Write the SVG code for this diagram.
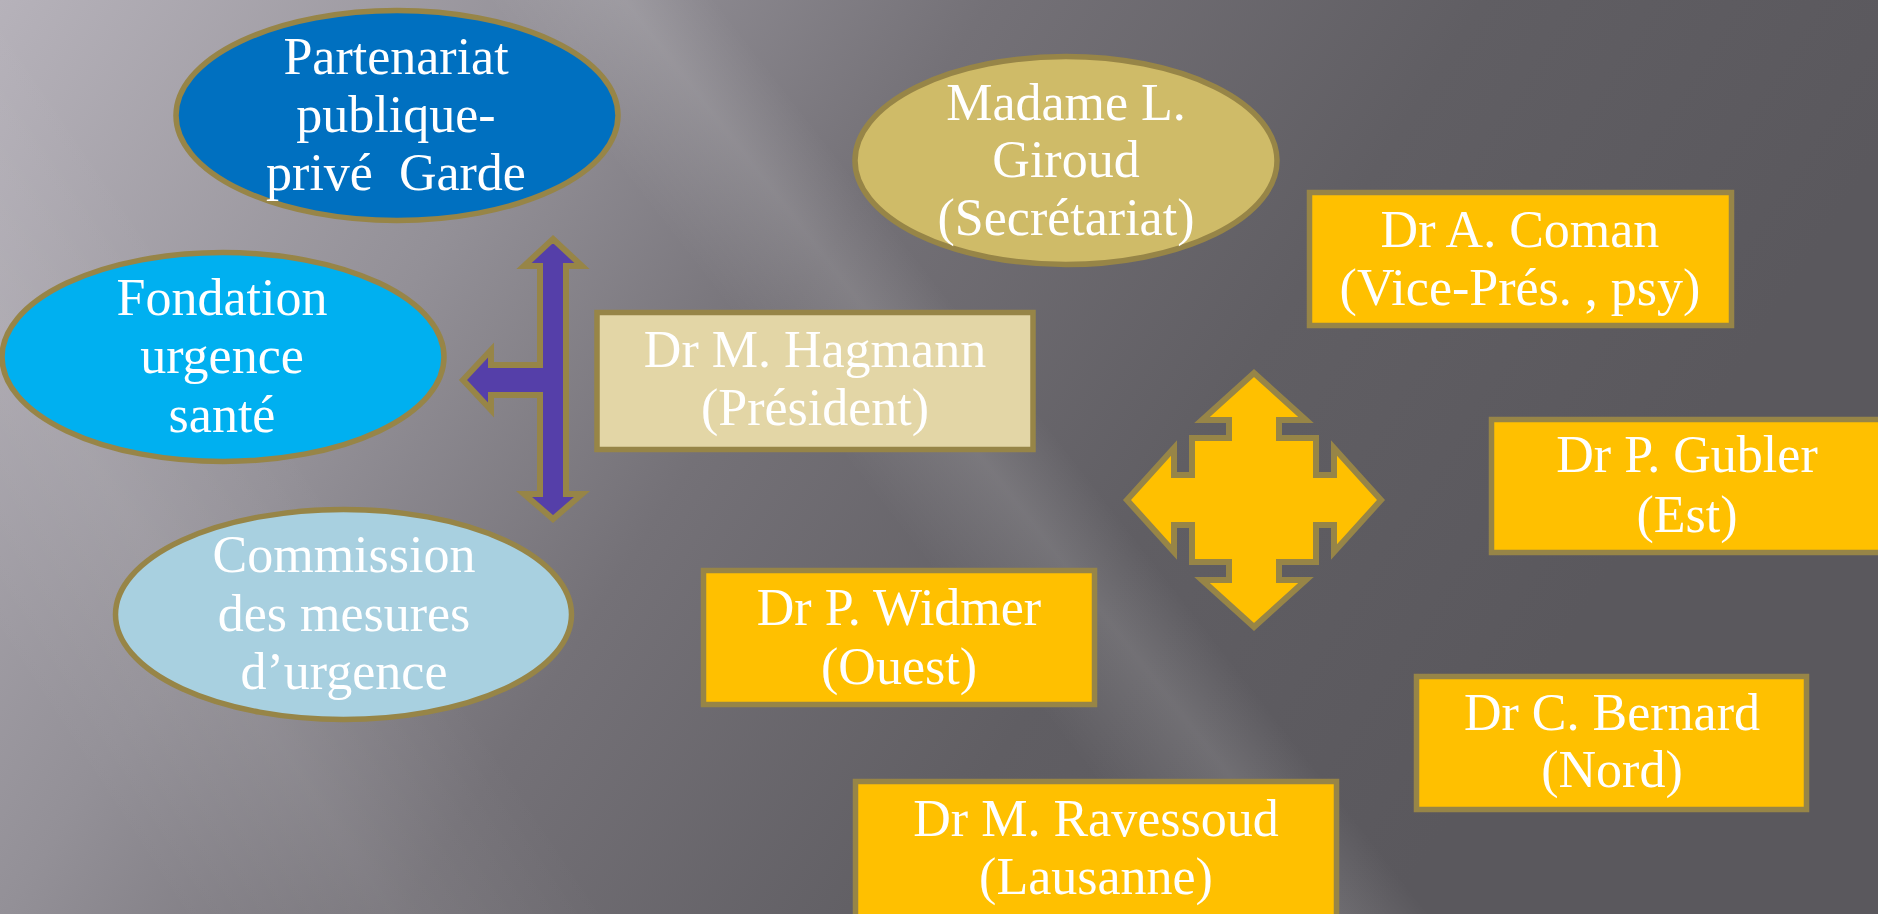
<svg xmlns="http://www.w3.org/2000/svg" width="1878" height="914" viewBox="0 0 1878 914">
<defs>
<linearGradient id="bg" gradientUnits="userSpaceOnUse" x1="0" y1="0" x2="1400" y2="900">
<stop offset="0" stop-color="#B6B2BA"/>
<stop offset="0.3" stop-color="#939097"/>
<stop offset="0.5" stop-color="#747177"/>
<stop offset="0.75" stop-color="#605E63"/>
<stop offset="1" stop-color="#5A585D"/>
</linearGradient>
<linearGradient id="streak" gradientUnits="userSpaceOnUse" x1="703" y1="570" x2="1177" y2="200">
<stop offset="0" stop-color="#FFFFFF" stop-opacity="0"/>
<stop offset="0.3" stop-color="#FFFFFF" stop-opacity="0"/>
<stop offset="0.48" stop-color="#FFFFFF" stop-opacity="0.12"/>
<stop offset="0.6" stop-color="#FFFFFF" stop-opacity="0"/>
<stop offset="1" stop-color="#FFFFFF" stop-opacity="0"/>
</linearGradient>
<linearGradient id="streak2" gradientUnits="userSpaceOnUse" x1="100" y1="800" x2="400" y2="600">
<stop offset="0" stop-color="#FFFFFF" stop-opacity="0"/>
<stop offset="0.5" stop-color="#FFFFFF" stop-opacity="0.07"/>
<stop offset="1" stop-color="#FFFFFF" stop-opacity="0"/>
</linearGradient>
</defs>
<style>
.node{stroke:#978547;stroke-width:5.5}
.lbl{font-family:"Liberation Serif","Times New Roman",serif;font-size:52px;fill:#FFFFFF;text-anchor:middle}
.arrow{stroke:#978547;stroke-width:6;stroke-linejoin:miter}
</style>
<rect x="0" y="0" width="1878" height="914" fill="url(#bg)"/>
<rect x="0" y="0" width="1878" height="914" fill="url(#streak)"/>
<rect x="0" y="0" width="1878" height="914" fill="url(#streak2)"/>

<g id="arrows">
<polygon class="arrow" fill="#553FA9" points="553,239 582,266 566,266 566,494 582,494 553,519 524,494 540,494 540,395 491,395 491,410 463,380 491,350 491,365 540,365 540,266 524,266"/>
<polygon class="arrow" fill="#FFC000" transform="translate(1254,500)" points="0,-127 52,-80 25,-80 25,-62 62,-62 62,-25 80,-25 80,-52 127,0 80,52 80,25 62,25 62,62 25,62 25,80 52,80 0,127 -52,80 -25,80 -25,62 -62,62 -62,25 -80,25 -80,52 -127,0 -80,-52 -80,-25 -62,-25 -62,-62 -25,-62 -25,-80 -52,-80"/>
</g>

<g id="partenariat">
<ellipse class="node" cx="397" cy="115.5" rx="221" ry="105" fill="#0070C0"/>
<text class="lbl" x="396" y="74">Partenariat</text>
<text class="lbl" x="396" y="132">publique-</text>
<text class="lbl" x="396" y="190">privé&#160; Garde</text>
</g>

<g id="giroud">
<ellipse class="node" cx="1066" cy="160.5" rx="211" ry="104" fill="#CFBB68"/>
<text class="lbl" x="1066" y="120">Madame L.</text>
<text class="lbl" x="1066" y="177">Giroud</text>
<text class="lbl" x="1066" y="235">(Secrétariat)</text>
</g>

<g id="fondation">
<ellipse class="node" cx="223" cy="357" rx="221" ry="104.5" fill="#00B0F0"/>
<text class="lbl" x="222" y="315">Fondation</text>
<text class="lbl" x="222" y="373">urgence</text>
<text class="lbl" x="222" y="432">santé</text>
</g>

<g id="commission">
<ellipse class="node" cx="343.5" cy="614.5" rx="228" ry="105" fill="#A8D0E0"/>
<text class="lbl" x="344" y="572">Commission</text>
<text class="lbl" x="344" y="631">des mesures</text>
<text class="lbl" x="344" y="689">d’urgence</text>
</g>

<g id="hagmann">
<rect class="node" x="597" y="312.5" width="436" height="137" fill="#E3D6A6"/>
<text class="lbl" x="815" y="367">Dr M. Hagmann</text>
<text class="lbl" x="815" y="425">(Président)</text>
</g>

<g id="coman">
<rect class="node" x="1309.5" y="192.5" width="422" height="133" fill="#FFC000"/>
<text class="lbl" x="1520" y="247">Dr A. Coman</text>
<text class="lbl" x="1520" y="305">(Vice-Prés. , psy)</text>
</g>

<g id="gubler">
<rect class="node" x="1491.5" y="419.5" width="400" height="133" fill="#FFC000"/>
<text class="lbl" x="1687" y="472">Dr P. Gubler</text>
<text class="lbl" x="1687" y="532">(Est)</text>
</g>

<g id="widmer">
<rect class="node" x="703.5" y="570.5" width="391" height="134" fill="#FFC000"/>
<text class="lbl" x="899" y="625">Dr P. Widmer</text>
<text class="lbl" x="899" y="684">(Ouest)</text>
</g>

<g id="bernard">
<rect class="node" x="1416.5" y="676.5" width="390" height="133" fill="#FFC000"/>
<text class="lbl" x="1612" y="730">Dr C. Bernard</text>
<text class="lbl" x="1612" y="787">(Nord)</text>
</g>

<g id="ravessoud">
<rect class="node" x="855.5" y="781.5" width="481" height="200" fill="#FFC000"/>
<text class="lbl" x="1096" y="836">Dr M. Ravessoud</text>
<text class="lbl" x="1096" y="894">(Lausanne)</text>
</g>
</svg>
